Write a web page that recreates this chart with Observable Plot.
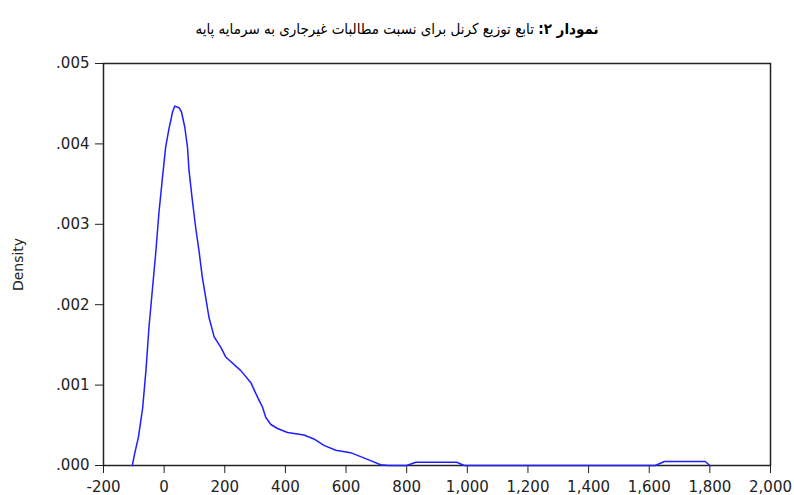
<!DOCTYPE html>
<html>
<head>
<meta charset="utf-8">
<script src="https://cdn.jsdelivr.net/npm/d3@7"></script>
<script src="https://cdn.jsdelivr.net/npm/@observablehq/plot@0.6"></script>
<style>
  html, body { margin: 0; padding: 0; background: #fff; }
  #title {
    width: 794px; height: 50px; box-sizing: border-box;
    padding-top: 19px; text-align: center; direction: rtl;
    font-family: "DejaVu Sans Condensed", "DejaVu Sans", sans-serif; font-size: 15px; line-height: 20px; color: #000;
  }
  #title b { font-weight: bold; }
</style>
</head>
<body>
<div id="title"><b>نمودار ۲:</b> تابع توزیع کرنل برای نسبت مطالبات غیرجاری به سرمایه پایه</div>
<div id="chart"></div>
<script>
// Kernel density estimate
const ratio = [-105, -97, -85, -71, -60, -50, -38, -28, -17, -5, 5, 16, 28, 35, 49, 57, 68, 77, 82, 93, 104, 115, 126, 137, 148, 165, 187, 203, 253, 286, 308, 324, 335, 352, 374, 407, 461, 494, 527, 566, 615, 648, 681, 714, 740, 800, 830, 965, 990, 1620, 1650, 1785, 1800];
const density = [0, 0.00015, 0.00035, 0.00071, 0.00118, 0.00172, 0.00222, 0.00263, 0.00315, 0.0036, 0.00396, 0.00419, 0.0044, 0.00447, 0.00445, 0.0044, 0.00421, 0.00396, 0.00367, 0.0033, 0.00296, 0.00267, 0.00234, 0.00209, 0.00184, 0.0016, 0.00147, 0.00135, 0.00118, 0.00103, 0.00085, 0.00073, 0.0006, 0.00051, 0.00046, 0.00041, 0.00038, 0.00033, 0.00025, 0.00019, 0.00016, 0.00011, 0.00006, 0.00001, 0, 0, 0.00004, 0.00004, 0, 0, 0.00005, 0.00005, 0];
const xTicks = [-200, 0, 200, 400, 600, 800, 1000, 1200, 1400, 1600, 1800, 2000];
const yTicks = [0, 0.001, 0.002, 0.003, 0.004, 0.005];
const yLabel = "Density";

const data = ratio.map((x, i) => ({x, y: density[i]}));
const fmtX = d => d3.format(",")(d).replace("\u2212", "-");
const fmtY = d => d3.format(".3f")(d).replace(/^0/, "");

const chart = Plot.plot({
  width: 794,
  height: 445,
  marginTop: 13,
  marginBottom: 30,
  marginLeft: 103,
  marginRight: 24,
  style: {fontFamily: "DejaVu Sans, sans-serif", fontSize: "15px", color: "#222", background: "#fff", overflow: "visible"},
  x: {domain: [-200, 2000], ticks: xTicks, tickFormat: fmtX, tickSize: 8, tickPadding: 8, label: null},
  y: {domain: [0, 0.005], ticks: yTicks, tickFormat: fmtY, tickSize: 8, tickPadding: 6, label: null},
  marks: [
    Plot.frame({stroke: "#222", strokeWidth: 1.5}),
    Plot.text([yLabel], {frameAnchor: "left", dx: -85, rotate: -90, textAnchor: "middle", lineAnchor: "middle", fontSize: 14, fill: "#222"}),
    Plot.line(data, {x: "x", y: "y", stroke: "#1f1fff", strokeWidth: 1.5})
  ]
});
document.getElementById("chart").appendChild(chart);
</script>
</body>
</html>
